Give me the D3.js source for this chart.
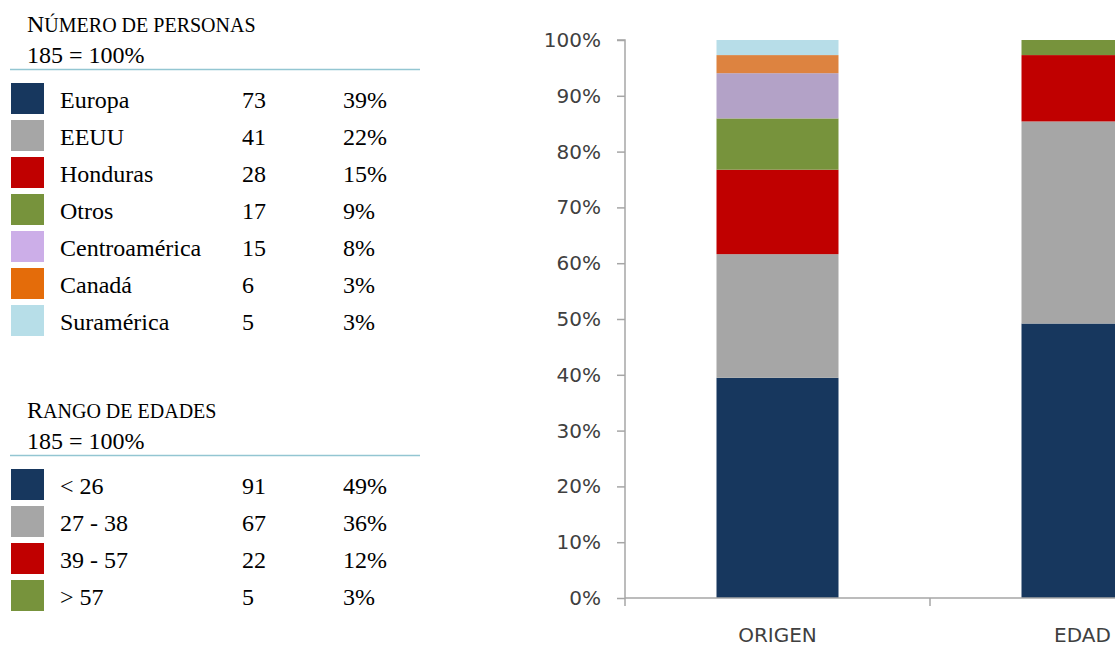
<!DOCTYPE html>
<html>
<head>
<meta charset="utf-8">
<script src="https://cdn.jsdelivr.net/npm/d3@7"></script>
<style>
  html, body { margin: 0; padding: 0; background: #fff; overflow: hidden; }
</style>
</head>
<body>
<div id="chart"></div>
<script>
const total = 185;

// origen
const origenNames = ["Europa", "EEUU", "Honduras", "Otros", "Centroamérica", "Canadá", "Suramérica"];
const origenCounts = [73, 41, 28, 17, 15, 6, 5];
const origenPcts = ["39%", "22%", "15%", "9%", "8%", "3%", "3%"];
const origenLegendColors = ["#17375E", "#A6A6A6", "#C00000", "#77933C", "#CCAEE8", "#E46C0A", "#B7DEE8"];
const origenBarColors = ["#17375E", "#A6A6A6", "#C00000", "#77933C", "#B3A2C7", "#DD8340", "#B7DDE8"];

// edad
const edadNames = ["< 26", "27 - 38", "39 - 57", "> 57"];
const edadCounts = [91, 67, 22, 5];
const edadPcts = ["49%", "36%", "12%", "3%"];
const edadColors = ["#17375E", "#A6A6A6", "#C00000", "#77933C"];

const categories = ["ORIGEN", "EDAD"];
const yTicks = [0, 0.1, 0.2, 0.3, 0.4, 0.5, 0.6, 0.7, 0.8, 0.9, 1];

const width = 1115, height = 648;
const svg = d3.select("#chart").append("svg")
    .attr("width", width)
    .attr("height", height);

// ---- legend tables on the left ----
const serif = "'Liberation Serif', 'Times New Roman', serif";

function drawTable(top, title, names, counts, pcts, colors) {
    const g = svg.append("g").attr("transform", `translate(0, ${top})`);
    // small caps title by hand: capitals stay big, the rest become small capitals
    const t = g.append("text")
        .attr("x", 27).attr("y", 0)
        .attr("font-family", serif)
        .attr("fill", "#000");
    for (const ch of title) {
        const big = ch !== " " && ch === ch.toUpperCase();
        t.append("tspan").attr("font-size", big ? 24 : 20).text(ch.toUpperCase());
    }
    g.append("text")
        .attr("x", 27).attr("y", 31)
        .attr("font-family", serif).attr("font-size", 24)
        .text(total + " = 100%");
    g.append("line")
        .attr("x1", 10).attr("x2", 420)
        .attr("y1", 37.5).attr("y2", 37.5)
        .attr("stroke", "#93C6D2").attr("stroke-width", 1.5);

    const rows = g.selectAll("g.row")
        .data(names.map((n, i) => ({ name: n, count: counts[i], pct: pcts[i], color: colors[i] })))
        .join("g")
        .attr("class", "row")
        .attr("transform", (d, i) => `translate(0, ${76 + i * 37})`);
    rows.append("rect")
        .attr("x", 11).attr("y", -25)
        .attr("width", 33).attr("height", 31)
        .attr("fill", d => d.color);
    const txt = (x, f) => rows.append("text")
        .attr("x", x).attr("y", 0)
        .attr("font-family", serif).attr("font-size", 24)
        .attr("fill", "#000")
        .text(f);
    txt(60, d => d.name);
    txt(242, d => d.count);
    txt(343, d => d.pct);
}

drawTable(32, "Número de personas", origenNames, origenCounts, origenPcts, origenLegendColors);
drawTable(418, "Rango de edades", edadNames, edadCounts, edadPcts, edadColors);

// ---- stacked 100% bars ----
const plotLeft = 625, plotTop = 40, plotBottom = 598;
const x = d3.scaleBand()
    .domain(categories)
    .range([plotLeft, plotLeft + 610])
    .paddingInner(0.6)
    .paddingOuter(0.3);
const y = d3.scaleLinear().domain([0, 1]).range([plotBottom, plotTop]);

const series = [
    { cat: "ORIGEN", counts: origenCounts, colors: origenBarColors },
    { cat: "EDAD", counts: edadCounts, colors: edadColors },
];

series.forEach(s => {
    let acc = 0;
    const segs = s.counts.map((c, i) => {
        const y0 = acc / total;
        acc += c;
        return { y0, y1: acc / total, color: s.colors[i] };
    });
    svg.append("g").selectAll("rect")
        .data(segs)
        .join("rect")
        .attr("x", x(s.cat))
        .attr("width", x.bandwidth())
        .attr("y", d => y(d.y1))
        .attr("height", d => y(d.y0) - y(d.y1))
        .attr("fill", d => d.color);
});

const axisFont = "'DejaVu Sans', sans-serif";
const axisColor = "#A6A6A6";
const labelColor = "#404040";

const yAxis = svg.append("g")
    .attr("transform", `translate(${plotLeft}, 0)`)
    .call(d3.axisLeft(y).tickValues(yTicks).tickFormat(d3.format(".0%")).tickSize(8).tickPadding(16));
yAxis.select(".domain").attr("stroke", axisColor).attr("stroke-width", 1.5).attr("d", `M-8,${plotTop}H0V${plotBottom}`);
yAxis.selectAll(".tick line").attr("stroke", axisColor).attr("stroke-width", 1.5);
yAxis.selectAll(".tick text")
    .attr("font-family", axisFont).attr("font-size", 20).attr("fill", labelColor);

// x axis: baseline with ticks at the category boundaries
const boundaries = [plotLeft].concat(categories.map(c => x(c) + x.bandwidth() + x.step() * x.paddingInner() / 2));
const xg = svg.append("g");
xg.append("line")
    .attr("x1", plotLeft).attr("x2", plotLeft + 610)
    .attr("y1", plotBottom).attr("y2", plotBottom)
    .attr("stroke", axisColor).attr("stroke-width", 1.5);
xg.selectAll("line.b")
    .data(boundaries)
    .join("line")
    .attr("class", "b")
    .attr("x1", d => d).attr("x2", d => d)
    .attr("y1", plotBottom).attr("y2", plotBottom + 8)
    .attr("stroke", axisColor).attr("stroke-width", 1.5);
xg.selectAll("text")
    .data(categories)
    .join("text")
    .attr("x", d => x(d) + x.bandwidth() / 2)
    .attr("y", 642)
    .attr("text-anchor", "middle")
    .attr("font-family", axisFont).attr("font-size", 20)
    .attr("fill", labelColor)
    .text(d => d);
</script>
</body>
</html>
